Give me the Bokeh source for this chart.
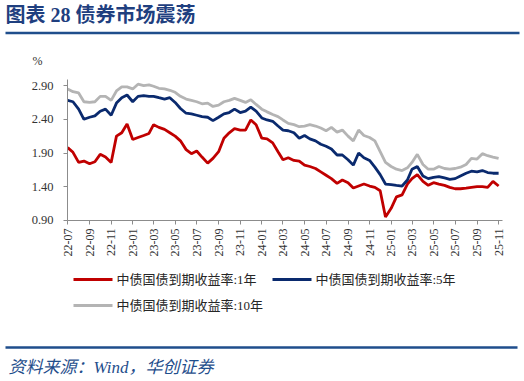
import math
import pandas as pd
from bokeh.plotting import figure
from bokeh.models import (Range1d, FixedTicker, NumeralTickFormatter,
                          DatetimeTickFormatter, MonthsTicker, ColumnDataSource)
from bokeh.core.properties import value
from bokeh.embed import file_html
from bokeh.resources import INLINE

# ---------------- data (semi-monthly) ----------------
start = pd.Timestamp("2022-07-01")
dates = [start + pd.DateOffset(months=k // 2, days=15 * (k % 2)) for k in range(81)]

yield_1y = [1.98, 1.91, 1.76, 1.78, 1.74, 1.77, 1.88, 1.84, 1.76, 2.15,
            2.20, 2.33, 2.10, 2.13, 2.16, 2.19, 2.32, 2.28, 2.25, 2.20,
            2.15, 2.08, 1.95, 1.89, 1.93, 1.84, 1.75, 1.82, 1.92, 2.12,
            2.20, 2.26, 2.24, 2.24, 2.39, 2.32, 2.12, 2.11, 2.05, 1.92,
            1.80, 1.83, 1.79, 1.78, 1.72, 1.70, 1.67, 1.62, 1.57, 1.52,
            1.45, 1.50, 1.46, 1.38, 1.41, 1.44, 1.41, 1.39, 1.34, 0.95,
            1.08, 1.25, 1.28, 1.44, 1.52, 1.58, 1.48, 1.42, 1.46, 1.44,
            1.42, 1.39, 1.37, 1.37, 1.38, 1.39, 1.40, 1.40, 1.39, 1.48,
            1.41]

yield_5y = [2.68, 2.66, 2.55, 2.40, 2.43, 2.45, 2.52, 2.55, 2.46, 2.64,
            2.72, 2.76, 2.66, 2.74, 2.75, 2.74, 2.74, 2.72, 2.70, 2.72,
            2.65, 2.56, 2.49, 2.48, 2.46, 2.44, 2.43, 2.38, 2.43, 2.48,
            2.50, 2.55, 2.50, 2.52, 2.58, 2.52, 2.42, 2.39, 2.37, 2.30,
            2.24, 2.23, 2.20, 2.12, 2.16, 2.11, 2.08, 2.03, 2.00, 1.96,
            1.87, 1.87, 1.80, 1.72, 1.90, 1.83, 1.79, 1.69, 1.58, 1.44,
            1.43, 1.42, 1.41, 1.50, 1.66, 1.70, 1.56, 1.52, 1.54, 1.55,
            1.53, 1.51, 1.52, 1.56, 1.60, 1.63, 1.62, 1.64, 1.61, 1.60,
            1.60]

yield_10y = [2.85, 2.81, 2.79, 2.66, 2.65, 2.66, 2.74, 2.74, 2.68, 2.82,
             2.88, 2.88, 2.85, 2.92, 2.90, 2.91, 2.89, 2.86, 2.85, 2.83,
             2.80, 2.74, 2.70, 2.68, 2.66, 2.63, 2.64, 2.59, 2.61, 2.66,
             2.68, 2.71, 2.68, 2.65, 2.69, 2.62, 2.55, 2.51, 2.47, 2.44,
             2.39, 2.34, 2.32, 2.29, 2.30, 2.32, 2.30, 2.27, 2.23, 2.28,
             2.21, 2.24, 2.15, 2.08, 2.24, 2.16, 2.13, 2.08, 1.92, 1.76,
             1.70, 1.66, 1.64, 1.68, 1.76, 1.88, 1.73, 1.66, 1.66, 1.70,
             1.67, 1.66, 1.67, 1.69, 1.73, 1.82, 1.81, 1.89, 1.86, 1.84,
             1.82]

series_names = ["中债国债到期收益率:1年", "中债国债到期收益率:5年", "中债国债到期收益率:10年"]
series_colors = ["#c00000", "#0a2a6e", "#b4b4b4"]
y_ticks = [0.9, 1.4, 1.9, 2.4, 2.9]
title_text = "图表 28 债券市场震荡"
source_text = "资料来源：Wind，华创证券"

# ---------------- geometry (figure pixels) ----------------
W, H = 524, 381
LEFT, RIGHT, TOP, BOTTOM = 67, 22, 79, 161
SERIF = value("Liberation Serif, Noto Sans CJK SC")
DARK_BLUE = "#1f4e8c"

p = figure(width=W, height=H, x_axis_type="datetime",
           x_range=Range1d(pd.Timestamp("2022-06-30 12:00"), pd.Timestamp("2025-11-12")),
           y_range=Range1d(0.899, 2.99),
           output_backend="svg", toolbar_location=None,
           min_border_left=LEFT, min_border_right=RIGHT,
           min_border_top=TOP, min_border_bottom=BOTTOM)
p.outline_line_color = None
p.grid.visible = False

# pixel-space ranges for the decorations around the chart
p.extra_x_ranges = {"px": Range1d(LEFT, W - RIGHT)}
p.extra_y_ranges = {"px": Range1d(H - BOTTOM, TOP)}
PX = dict(x_range_name="px", y_range_name="px", level="overlay")

# ---------------- series ----------------
src = ColumnDataSource(dict(date=dates, y1=yield_1y, y5=yield_5y, y10=yield_10y))
for col, color in zip(["y1", "y5", "y10"], series_colors):
    p.line("date", col, source=src, line_color=color, line_width=2.8)

# ---------------- axes ----------------
p.xaxis.ticker = MonthsTicker(months=[0, 2, 4, 6, 8, 10])
p.xaxis.formatter = DatetimeTickFormatter(months="%y-%m", days="%y-%m", years="%y-%m")
p.xaxis.major_label_orientation = math.pi / 2
p.xaxis.major_label_standoff = 4
p.yaxis.ticker = FixedTicker(ticks=y_ticks)
p.yaxis.formatter = NumeralTickFormatter(format="0.00")
p.yaxis.major_label_standoff = 10
for ax in (p.xaxis, p.yaxis):
    ax.axis_line_color = "#8c8c8c"
    ax.major_tick_line_color = "#8c8c8c"
    ax.minor_tick_line_color = None
    ax.major_tick_in = 0
    ax.major_tick_out = 4
    ax.major_label_text_font = "Liberation Serif"
    ax.major_label_text_font_size = "12px"
    ax.major_label_text_color = "#333333"
p.yaxis.major_label_text_font_size = "12.5px"

# ---------------- header ----------------
p.text(x=[5], y=[14], text=[title_text], text_font=SERIF, text_font_size="20px",
       text_font_style="bold", text_color="#1f3f7f", text_baseline="middle", **PX)
p.segment(x0=[5], y0=[32.5], x1=[519], y1=[32.5], line_color=DARK_BLUE, line_width=2.5, **PX)
p.text(x=[37], y=[60], text=["%"], text_font=SERIF, text_font_size="12px",
       text_color="#333333", text_align="center", text_baseline="middle", **PX)

# ---------------- legend ----------------
leg_x = [73, 272, 73]
leg_y = [279, 279, 305]
p.segment(x0=leg_x, y0=leg_y, x1=[x + 39 for x in leg_x], y1=leg_y,
          line_color=series_colors, line_width=3, **PX)
p.text(x=[x + 43 for x in leg_x], y=leg_y, text=series_names, text_font=SERIF,
       text_font_size="13px", text_color="#262626", text_baseline="middle", **PX)

# ---------------- footer ----------------
p.segment(x0=[5], y0=[347], x1=[517], y1=[347], line_color=DARK_BLUE, line_width=2.5, **PX)
p.text(x=[8], y=[367], text=[source_text], text_font=SERIF, text_font_size="17px",
       text_font_style="italic", text_color=DARK_BLUE, text_baseline="middle", **PX)

open("out.html", "w").write(file_html(p, INLINE))
